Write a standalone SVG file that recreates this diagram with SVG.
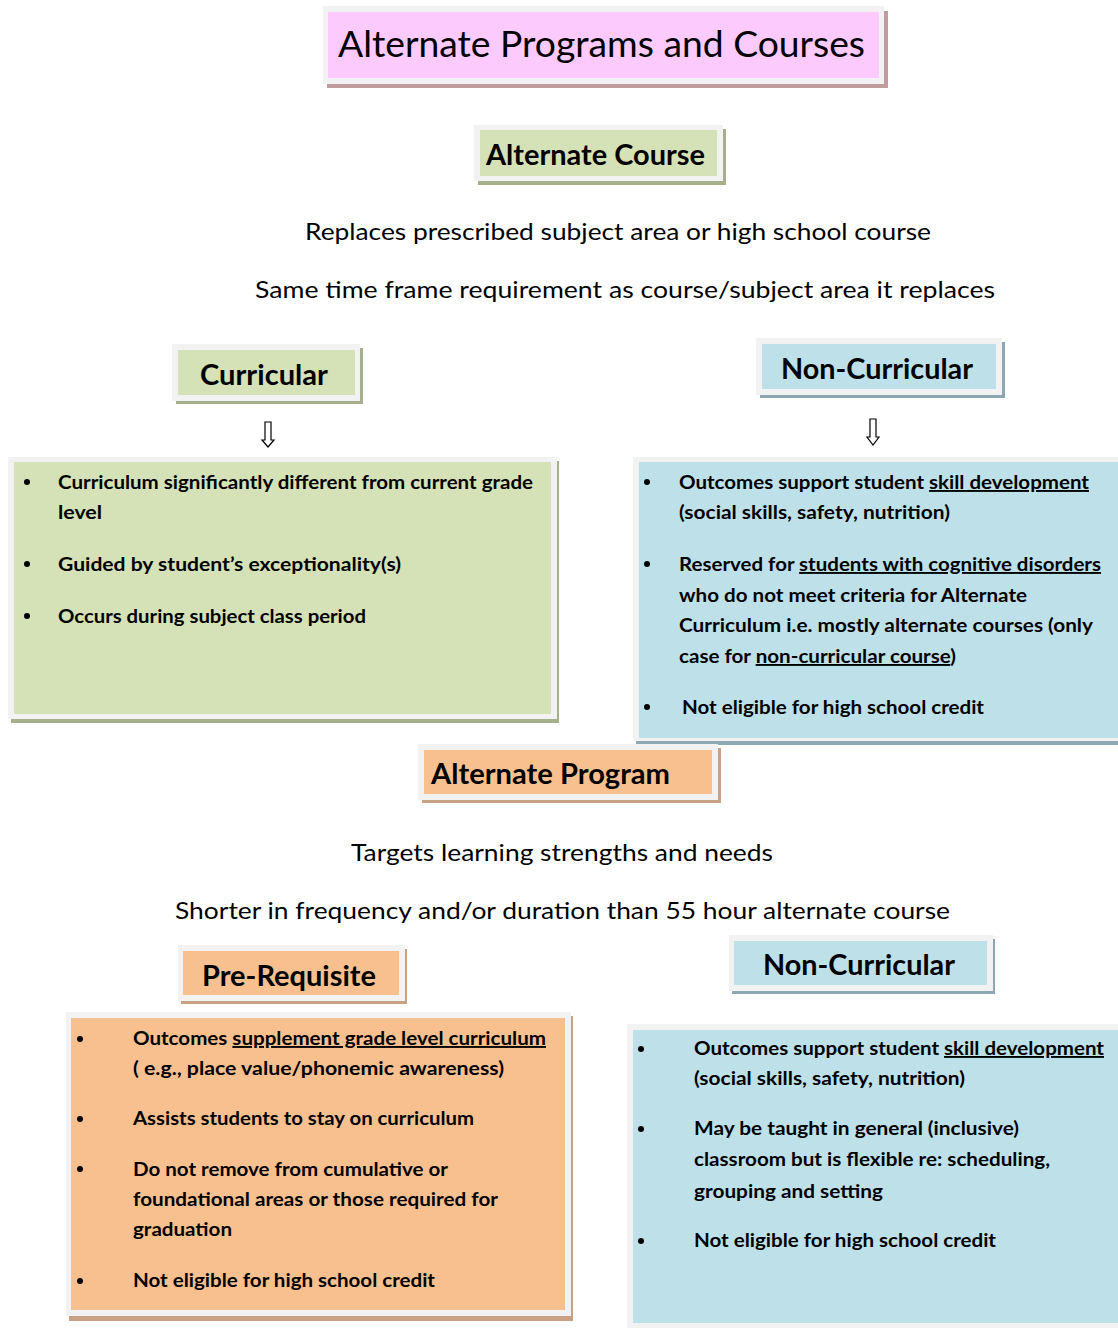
<svg xmlns="http://www.w3.org/2000/svg" width="1118" height="1328" viewBox="0 0 1118 1328">
<style>
.frame{fill:#f2f2f2}
.pink{fill:#fdcafd}.pinkS{fill:#c19c9c}
.green{fill:#d5e2b8}.greenS{fill:#a6b08c}
.blue{fill:#bee0e8}.blueS{fill:#8ea8b2}
.orange{fill:#f8c08f}.orangeS{fill:#c9a285}
text{font-family:Lato,"Liberation Sans",sans-serif;fill:#000}
.t{font-size:36px}
.h{font-size:28px;font-weight:bold}
.hn{font-size:28px;font-weight:bold}
.d{font-size:24px}
.b{font-size:19px;font-weight:bold}
.u{text-decoration:underline}
.dot{fill:#000}
.arrow{fill:#fff;stroke:#000;stroke-width:1.2}
</style>
<rect width="1118" height="1328" fill="#fff"/>

<g id="title">
<rect class="pinkS" x="327" y="11" width="561" height="77"/>
<rect class="frame" x="323" y="6" width="561" height="78"/>
<rect class="pink" x="328" y="12" width="551" height="66"/>
<text class="t" x="338" y="57" textLength="527" lengthAdjust="spacingAndGlyphs">Alternate Programs and Courses</text>
</g>

<g id="alternate-course">
<rect class="greenS" x="478" y="129" width="248" height="56"/>
<rect class="frame" x="474" y="125" width="249" height="56"/>
<rect class="green" x="480" y="130" width="237" height="46"/>
<text class="h" x="486" y="165" textLength="219" lengthAdjust="spacingAndGlyphs">Alternate Course</text>
</g>

<g id="course-desc">
<text class="d" x="305" y="240" textLength="626" lengthAdjust="spacingAndGlyphs">Replaces prescribed subject area or high school course</text>
<text class="d" x="255" y="298" textLength="740" lengthAdjust="spacingAndGlyphs">Same time frame requirement as course/subject area it replaces</text>
</g>

<g id="curricular">
<rect class="greenS" x="176" y="348" width="187" height="56"/>
<rect class="frame" x="172" y="344" width="188" height="57"/>
<rect class="green" x="178" y="350" width="177" height="45"/>
<text class="h" x="200" y="385" textLength="128" lengthAdjust="spacingAndGlyphs">Curricular</text>
</g>

<g id="non-curricular-course">
<rect class="blueS" x="760" y="342" width="245" height="56"/>
<rect class="frame" x="756" y="338" width="246" height="57"/>
<rect class="blue" x="762" y="344" width="234" height="45"/>
<text class="hn" x="781" y="379" textLength="192" lengthAdjust="spacingAndGlyphs">Non-Curricular</text>
</g>

<g id="connectors">
<path class="arrow" d="M265,422 H271 V440 H274 L268,447 L262,440 H265 Z"/>
<path class="arrow" d="M870,419 H876 V437 H879 L873,445 L867,437 H870 Z"/>
</g>

<g id="curricular-details">
<rect class="greenS" x="11" y="461" width="548" height="262"/>
<rect class="frame" x="8" y="457" width="549" height="262"/>
<rect class="green" x="14" y="462" width="537" height="252"/>
<circle class="dot" cx="27" cy="482" r="3"/>
<circle class="dot" cx="27" cy="564" r="3"/>
<circle class="dot" cx="27" cy="616" r="3"/>
<text class="b" x="58" y="489" textLength="475" lengthAdjust="spacingAndGlyphs">Curriculum significantly different from current grade</text>
<text class="b" x="58" y="519" textLength="44" lengthAdjust="spacingAndGlyphs">level</text>
<text class="b" x="58" y="571" textLength="343" lengthAdjust="spacingAndGlyphs">Guided by student’s  exceptionality(s)</text>
<text class="b" x="58" y="623" textLength="308" lengthAdjust="spacingAndGlyphs">Occurs during subject class period</text>
</g>

<g id="non-curricular-course-details">
<rect class="blueS" x="636" y="461" width="482" height="284"/>
<rect class="frame" x="633" y="457" width="485" height="284"/>
<rect class="blue" x="639" y="462" width="479" height="276"/>
<circle class="dot" cx="647" cy="482" r="3"/>
<circle class="dot" cx="647" cy="564" r="3"/>
<circle class="dot" cx="647" cy="707" r="3"/>
<text class="b" x="679" y="489" textLength="410" lengthAdjust="spacingAndGlyphs">Outcomes support student <tspan class="u">skill development</tspan></text>
<text class="b" x="679" y="519" textLength="271" lengthAdjust="spacingAndGlyphs">(social skills, safety, nutrition)</text>
<text class="b" x="679" y="571" textLength="422" lengthAdjust="spacingAndGlyphs">Reserved for <tspan class="u">students with cognitive disorders</tspan></text>
<text class="b" x="679" y="602" textLength="348" lengthAdjust="spacingAndGlyphs">who do not meet criteria for Alternate</text>
<text class="b" x="679" y="632" textLength="414" lengthAdjust="spacingAndGlyphs">Curriculum i.e. mostly alternate courses (only</text>
<text class="b" x="679" y="663" textLength="277" lengthAdjust="spacingAndGlyphs">case for <tspan class="u">non-curricular course</tspan>)</text>
<text class="b" x="682" y="714" textLength="302" lengthAdjust="spacingAndGlyphs">Not eligible for high school credit</text>
</g>

<g id="alternate-program">
<rect class="orangeS" x="422" y="748" width="299" height="55"/>
<rect class="frame" x="418" y="744" width="300" height="56"/>
<rect class="orange" x="424" y="750" width="288" height="44"/>
<text class="h" x="431" y="784" textLength="239" lengthAdjust="spacingAndGlyphs">Alternate Program</text>
</g>

<g id="program-desc">
<text class="d" x="351" y="861" textLength="422" lengthAdjust="spacingAndGlyphs">Targets learning strengths and needs</text>
<text class="d" x="175" y="919" textLength="775" lengthAdjust="spacingAndGlyphs">Shorter in frequency and/or duration than 55 hour alternate course</text>
</g>

<g id="pre-requisite">
<rect class="orangeS" x="181" y="949" width="226" height="55"/>
<rect class="frame" x="178" y="945" width="227" height="56"/>
<rect class="orange" x="183" y="951" width="216" height="44"/>
<text class="h" x="202" y="986" textLength="174" lengthAdjust="spacingAndGlyphs">Pre-Requisite</text>
</g>

<g id="non-curricular-program">
<rect class="blueS" x="732" y="939" width="263" height="55"/>
<rect class="frame" x="729" y="935" width="264" height="56"/>
<rect class="blue" x="734" y="941" width="253" height="44"/>
<text class="hn" x="763" y="975" textLength="192" lengthAdjust="spacingAndGlyphs">Non-Curricular</text>
</g>

<g id="pre-requisite-details">
<rect class="orangeS" x="69" y="1016" width="504" height="305"/>
<rect class="frame" x="66" y="1012" width="505" height="304"/>
<rect class="orange" x="71" y="1018" width="494" height="292"/>
<circle class="dot" cx="80" cy="1039" r="3"/>
<circle class="dot" cx="80" cy="1119" r="3"/>
<circle class="dot" cx="80" cy="1169" r="3"/>
<circle class="dot" cx="80" cy="1281" r="3"/>
<text class="b" x="133" y="1045" textLength="413" lengthAdjust="spacingAndGlyphs">Outcomes <tspan class="u">supplement grade level curriculum</tspan></text>
<text class="b" x="133" y="1075" textLength="371" lengthAdjust="spacingAndGlyphs">( e.g.,  place value/phonemic awareness)</text>
<text class="b" x="133" y="1125" textLength="341" lengthAdjust="spacingAndGlyphs">Assists students to stay on curriculum</text>
<text class="b" x="133" y="1176" textLength="315" lengthAdjust="spacingAndGlyphs">Do not remove from cumulative or</text>
<text class="b" x="133" y="1206" textLength="365" lengthAdjust="spacingAndGlyphs">foundational areas or those required for</text>
<text class="b" x="133" y="1236" textLength="99" lengthAdjust="spacingAndGlyphs">graduation</text>
<text class="b" x="133" y="1287" textLength="302" lengthAdjust="spacingAndGlyphs">Not eligible for high school credit</text>
</g>

<g id="non-curricular-program-details">
<rect class="frame" x="627" y="1024" width="491" height="304"/>
<rect class="blue" x="633" y="1030" width="485" height="293"/>
<circle class="dot" cx="641" cy="1049" r="3"/>
<circle class="dot" cx="641" cy="1129" r="3"/>
<circle class="dot" cx="641" cy="1241" r="3"/>
<text class="b" x="694" y="1055" textLength="410" lengthAdjust="spacingAndGlyphs">Outcomes support student <tspan class="u">skill development</tspan></text>
<text class="b" x="694" y="1085" textLength="271" lengthAdjust="spacingAndGlyphs">(social skills, safety, nutrition)</text>
<text class="b" x="694" y="1135" textLength="325" lengthAdjust="spacingAndGlyphs">May be taught in general (inclusive)</text>
<text class="b" x="694" y="1166" textLength="356" lengthAdjust="spacingAndGlyphs">classroom but is flexible re: scheduling,</text>
<text class="b" x="694" y="1198" textLength="189" lengthAdjust="spacingAndGlyphs">grouping and setting</text>
<text class="b" x="694" y="1247" textLength="302" lengthAdjust="spacingAndGlyphs">Not eligible for high school credit</text>
</g>
</svg>
